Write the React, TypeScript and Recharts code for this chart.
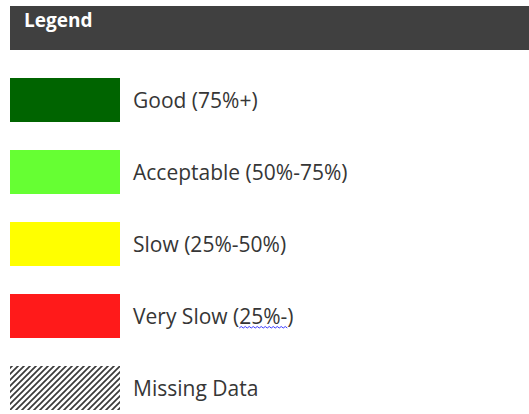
import { useLayoutEffect, useRef, useState } from 'react';
import { Bar, BarChart, Cell, LabelList, XAxis, YAxis } from 'recharts';

// legend entries, top to bottom
const labels = ['Good (75%+)', 'Acceptable (50%-75%)', 'Slow (25%-50%)', 'Very Slow (25%-)', 'Missing Data'];
const colors = ['#006400', '#66ff33', '#ffff00', '#ff1a1a', 'url(#hatch)'];
const swatchValues = [1, 1, 1, 1, 1];
// word flagged by the spell checker (squiggly underline), and where
const flaggedLabel = 'Very Slow (25%-)';
const flagged = '25%-';

const FONT = '"Open Sans", "Noto Sans", sans-serif';
const TEXT = '#363636';

const data = labels.map((name, i) => ({ name, value: swatchValues[i], fill: colors[i] }));

function Squiggle({ x0, x1, y }: { x0: number; x1: number; y: number }) {
  let d = `M${x0},${y}`;
  let up = true;
  for (let x = x0 + 2; x <= x1; x += 2) {
    d += ` L${x},${up ? y - 1.5 : y}`;
    up = !up;
  }
  return <path d={d} fill="none" stroke="#3b3bff" strokeWidth={1} />;
}

function SwatchLabel(props: any) {
  const { x, y, width, height, value } = props;
  const tx = Number(x) + Number(width) + 13;
  const ty = Number(y) + Number(height) / 2 + 8;
  const ref = useRef<SVGTextElement>(null);
  const [span, setSpan] = useState<[number, number] | null>(null);
  const idx = value === flaggedLabel ? String(value).indexOf(flagged) : -1;

  useLayoutEffect(() => {
    if (idx < 0 || !ref.current) return;
    const el = ref.current;
    const a = idx > 0 ? el.getSubStringLength(0, idx) : 0;
    const b = el.getSubStringLength(idx, flagged.length);
    setSpan([tx + a, tx + a + b]);
  }, [idx, tx]);

  return (
    <g>
      <text ref={ref} x={tx} y={ty} fill={TEXT} fontSize={21} fontFamily={FONT}>
        {value}
      </text>
      {span && <Squiggle x0={span[0]} x1={span[1]} y={ty + 4} />}
    </g>
  );
}

export default function App() {
  return (
    <div
      style={{
        position: 'absolute',
        left: 0,
        top: 0,
        width: 529,
        height: 414,
        overflow: 'hidden',
        background: '#fff',
      }}
    >
      {/* header bar */}
      <div
        style={{
          position: 'absolute',
          left: 10,
          top: 6,
          width: 519,
          height: 44,
          background: '#404040',
        }}
      >
        <span
          style={{
            position: 'absolute',
            left: 14,
            top: 5,
            color: '#fff',
            fontFamily: FONT,
            fontWeight: 700,
            fontSize: 19,
            lineHeight: 1,
          }}
        >
          Legend
        </span>
      </div>

      <div style={{ position: 'absolute', left: 0, top: 0 }}>
        <BarChart
          width={529}
          height={424}
          layout="vertical"
          data={data}
          margin={{ top: 64, right: 409, bottom: 0, left: 10 }}
          barSize={44}
        >
          <defs>
            <pattern id="hatch" patternUnits="userSpaceOnUse" width={6} height={6}>
              <rect width={6} height={6} fill="#fff" />
              <path d="M0,6 L6,0 M-1.5,1.5 L1.5,-1.5 M4.5,7.5 L7.5,4.5" stroke="#3a3a3a" strokeWidth={1.7} />
            </pattern>
          </defs>
          <XAxis type="number" domain={[0, 1]} hide />
          <YAxis type="category" dataKey="name" hide />
          <Bar dataKey="value" isAnimationActive={false}>
            {data.map((d) => (
              <Cell key={d.name} fill={d.fill} />
            ))}
            <LabelList dataKey="name" content={<SwatchLabel />} />
          </Bar>
        </BarChart>
      </div>
    </div>
  );
}
